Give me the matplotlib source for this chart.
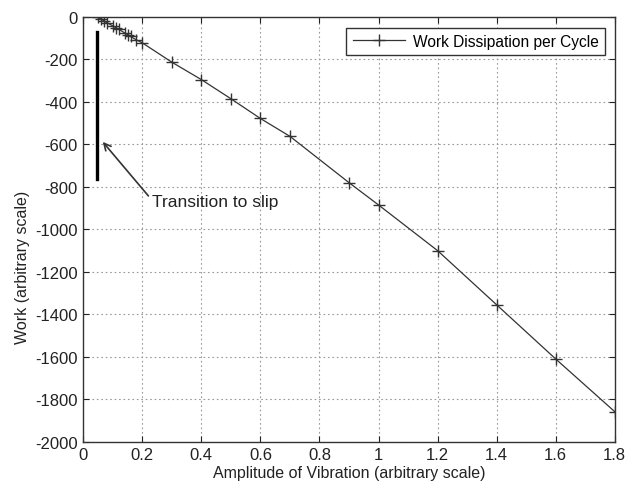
import numpy as np
import matplotlib
matplotlib.use('Agg')
import matplotlib.pyplot as plt
from matplotlib.ticker import FuncFormatter

plt.rcParams['font.family'] = ['Liberation Sans', 'DejaVu Sans']
plt.rcParams['axes.unicode_minus'] = False

# work dissipated per cycle vs vibration amplitude
amp = [0.05, 0.06, 0.07, 0.08, 0.1, 0.11, 0.12, 0.14, 0.15, 0.16, 0.18, 0.2,
       0.3, 0.4, 0.5, 0.6, 0.7, 0.9, 1.0, 1.2, 1.4, 1.6, 1.8]
work = [0, -10, -18, -27, -42, -50, -58, -75, -83, -92, -108, -122,
        -213, -295, -385, -478, -562, -780, -885, -1100, -1355, -1610, -1858]

slip_x = 0.047
slip_y = [-70, -765]
xticks = [0, 0.2, 0.4, 0.6, 0.8, 1, 1.2, 1.4, 1.6, 1.8]
yticks = list(range(-2000, 1, 200))

fig = plt.figure(figsize=(6.26, 4.85), dpi=100)
ax = fig.add_axes([0.133, 0.087, 0.849, 0.876])

ax.plot(amp, work, color='#333333', lw=0.9, marker='+', ms=9, mew=1.0,
        label='Work Dissipation per Cycle')
ax.plot([slip_x, slip_x], slip_y, color='black', lw=2.4)

ax.annotate('Transition to slip', xy=(0.066, -588), xytext=(0.233, -870),
            fontsize=12.5, color='#222222', va='center', ha='left',
            arrowprops=dict(arrowstyle='->', color='#333333', lw=1.2,
                            shrinkA=1, shrinkB=0, relpos=(0, 0.6)))

ax.set_xlim(0, 1.8)
ax.set_ylim(-2000, 0)
ax.set_xticks(xticks)
ax.set_yticks(yticks)
ax.xaxis.set_major_formatter(FuncFormatter(lambda v, p: ('%g' % v)))
ax.tick_params(direction='in', top=True, right=True, labelsize=12,
               length=4, width=0.8, colors='#222222', pad=4)
ax.grid(True, linestyle=(0, (1.5, 2.5)), color='#999999', lw=0.8)
for s in ax.spines.values():
    s.set_color('#333333')
    s.set_linewidth(1.0)

ax.set_xlabel('Amplitude of Vibration (arbitrary scale)', fontsize=11.5,
              color='#222222', labelpad=2)
ax.set_ylabel('Work (arbitrary scale)', fontsize=11.5, color='#222222')
ax.yaxis.set_label_coords(-0.1, 0.414)

leg = ax.legend(loc='upper right', fontsize=11.2, fancybox=False,
                framealpha=1, edgecolor='#333333', handlelength=3.4,
                handletextpad=0.5, borderpad=0.4,
                bbox_to_anchor=(0.997, 0.993))
leg.get_frame().set_linewidth(1.0)

fig.savefig('out.png', dpi=100, facecolor='white')
